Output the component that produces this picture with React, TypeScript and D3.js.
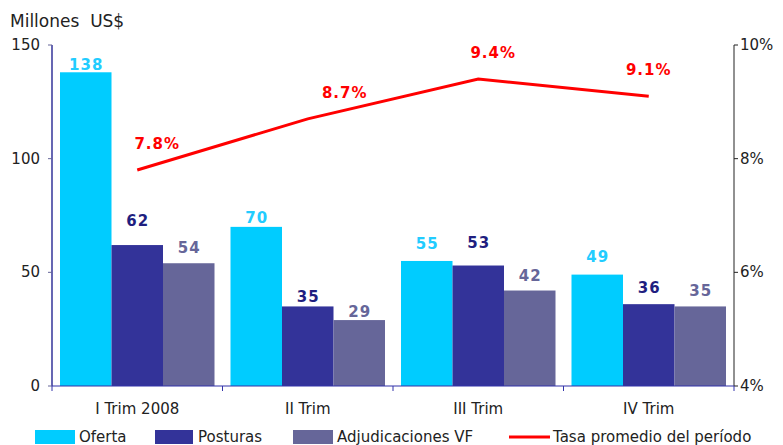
import React from "react";
import * as d3 from "d3";

const categories = ["I Trim 2008", "II Trim", "III Trim", "IV Trim"];
const seriesNames = ["Oferta", "Posturas", "Adjudicaciones VF"];
const oferta = [138, 70, 55, 49];
const posturas = [62, 35, 53, 36];
const adjudicaciones = [54, 29, 42, 35];
const tasa = [7.8, 8.7, 9.4, 9.1];
const leftTicks = [0, 50, 100, 150];
const rightTicks = [4, 6, 8, 10];
const lineName = "Tasa promedio del período";
const unitTitle = "Millones\u00a0\u00a0US$";

const W = 783, H = 445;
const L = 52, R = 734, T = 45, B = 386;
const barColors = ["#00CCFF", "#333399", "#666699"];
const labelColors = ["#22CCFF", "#1F1F80", "#666699"];
// label gaps above bars (style)
const labelGap = [
  [2, 4, 12, 13],
  [19, 4, 18, 11],
  [10, 3, 10, 10],
];
const lineLabelDx = [20, 37, 15, 0];
const FONT = "DejaVu Sans, Verdana, sans-serif";

export default function App() {
  const x0 = d3.scaleBand().domain(categories).range([L, R]).paddingInner(0).paddingOuter(0);
  const inner = 8;
  const x1 = d3.scaleBand().domain(seriesNames).range([inner, x0.bandwidth() - inner]);
  const y = d3.scaleLinear().domain([0, 150]).range([B, T]);
  const y2 = d3.scaleLinear().domain([4, 10]).range([B, T]);
  const series = [oferta, posturas, adjudicaciones];
  const cx = (c: string) => (x0(c) as number) + x0.bandwidth() / 2;
  const line = d3.line<number>().x((_, i) => cx(categories[i])).y((d) => y2(d));

  return (
    <svg width={W} height={H} style={{ position: "absolute", left: 0, top: 0, background: "#fff" }} fontFamily={FONT}>
      <text x={10} y={27} fontSize={17} fill="#222">{unitTitle}</text>
      {/* bars */}
      {categories.map((c, ci) => (
        <g key={c} transform={`translate(${x0(c)},0)`}>
          {series.map((s, si) => (
            <rect key={si} x={x1(seriesNames[si])} y={y(s[ci])} width={x1.bandwidth()} height={B - y(s[ci])} fill={barColors[si]} />
          ))}
          {series.map((s, si) => (
            <text key={"l" + si} x={(x1(seriesNames[si]) as number) + x1.bandwidth() / 2 + 0.5} y={y(s[ci]) - labelGap[si][ci]} textAnchor="middle" fontSize={15} letterSpacing={1} fontWeight="bold" fill={labelColors[si]}>{s[ci]}</text>
          ))}
        </g>
      ))}
      {/* left axis */}
      <line x1={L} x2={L} y1={T} y2={B} stroke="#000080" strokeWidth={1.2} />
      {leftTicks.map((t) => (
        <g key={t}>
          <line x1={L - 4} x2={L} y1={y(t)} y2={y(t)} stroke="#666699" />
          <text x={40} y={y(t) + 5} textAnchor="end" fontSize={15} fill="#222">{t}</text>
        </g>
      ))}
      {/* right axis */}
      <line x1={R} x2={R} y1={T} y2={B} stroke="#222" strokeWidth={1} />
      {rightTicks.map((t) => (
        <g key={t}>
          <line x1={R} x2={R + 4} y1={y2(t)} y2={y2(t)} stroke="#222" />
          <text x={740} y={y2(t) + 5} fontSize={15} fill="#222">{t}%</text>
        </g>
      ))}
      {/* bottom axis */}
      <line x1={L} x2={R} y1={B} y2={B} stroke="#3333AA" strokeWidth={1.2} />
      {[...categories.map((c) => x0(c) as number), R].map((xv, i) => (
        <line key={i} x1={xv} x2={xv} y1={B} y2={B + 5} stroke="#3333AA" />
      ))}
      {categories.map((c) => (
        <text key={c} x={cx(c)} y={414} textAnchor="middle" fontSize={15} fill="#222">{c}</text>
      ))}
      {/* line */}
      <path d={line(tasa) as string} fill="none" stroke="#FF0000" strokeWidth={3} />
      {tasa.map((t, i) => (
        <text key={i} x={cx(categories[i]) + lineLabelDx[i]} y={y2(t) - 21} textAnchor="middle" fontSize={15} letterSpacing={1} fontWeight="bold" fill="#FF0000">{t.toFixed(1)}%</text>
      ))}
      {/* legend */}
      {[{ x: 35, w: 40, tx: 79 }, { x: 155, w: 38, tx: 198 }, { x: 293, w: 40, tx: 337 }].map((p, i) => (
        <g key={i}>
          <rect x={p.x} y={430} width={p.w} height={14} fill={barColors[i]} />
          <text x={p.tx} y={442} fontSize={15} fill="#222">{seriesNames[i]}</text>
        </g>
      ))}
      <line x1={509} x2={550} y1={437} y2={437} stroke="#FF0000" strokeWidth={3} />
      <text x={553} y={442} fontSize={15} fill="#222">{lineName}</text>
    </svg>
  );
}
